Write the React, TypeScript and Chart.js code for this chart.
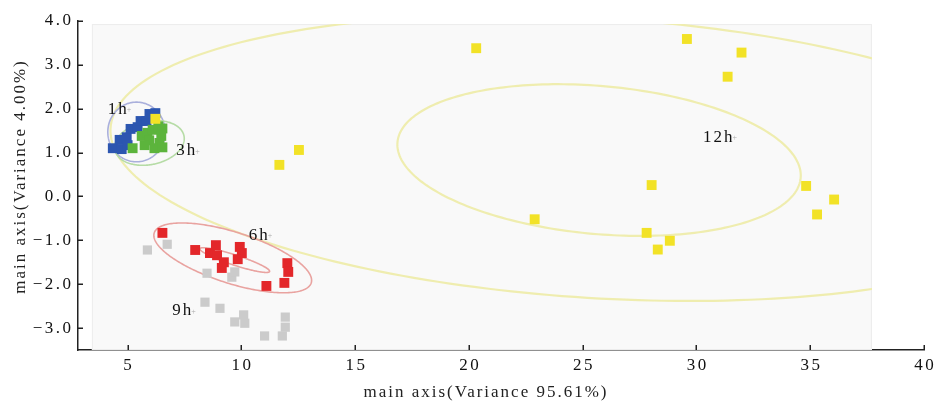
import React, { useEffect, useRef } from 'react';
import { Chart, registerables } from 'chart.js';

Chart.register(...registerables);

// ---- Axes ----
const X_TICKS = [5, 10, 15, 20, 25, 30, 35, 40];
const Y_TICKS = [4, 3, 2, 1, 0, -1, -2, -3];
const X_RANGE = [2.82, 40];
const Y_RANGE = [-3.5, 4];
const X_TITLE = 'main axis(Variance 95.61%)';
const Y_TITLE = 'main axis(Variance 4.00%)';

// ---- Series (PCA scores) ----
const h1X = [4.35, 4.74, 4.65, 4.96, 5.13, 5.44, 5.57, 5.83, 5.96, 6.22, 5.0];
const h1Y = [1.10, 1.08, 1.29, 1.35, 1.54, 1.58, 1.72, 1.72, 1.88, 1.90, 1.17];

const h3X = [5.22, 5.62, 5.87, 6.10, 6.35, 6.53, 6.48, 6.40, 6.18, 5.95, 6.53, 5.75];
const h3Y = [1.10, 1.38, 1.45, 1.52, 1.60, 1.55, 1.38, 1.22, 1.10, 1.28, 1.12, 1.17];

const h6X = [6.53, 7.97, 8.62, 8.88, 8.93, 9.23, 9.14, 9.93, 10.02, 9.84, 11.1, 12.02, 12.06, 11.89];
const h6Y = [-0.83, -1.22, -1.29, -1.11, -1.34, -1.50, -1.63, -1.15, -1.29, -1.43, -2.04, -1.52, -1.72, -1.97];

const h9X = [5.87, 6.74, 8.49, 9.58, 9.71, 8.40, 9.06, 9.71, 10.10, 10.15, 11.02, 11.93, 11.93, 11.80];
const h9Y = [-1.22, -1.09, -1.75, -1.84, -1.72, -2.41, -2.55, -2.86, -2.70, -2.89, -3.18, -2.75, -2.98, -3.18];

const h12X = [20.32, 29.58, 31.98, 31.37, 11.67, 12.53, 6.22, 28.03, 34.82, 36.05, 35.30, 27.81, 28.83, 28.30, 22.89];
const h12Y = [3.38, 3.59, 3.28, 2.73, 0.72, 1.06, 1.77, 0.26, 0.24, -0.07, -0.41, -0.83, -1.01, -1.21, -0.52];

// ---- Confidence ellipses: centre and two conjugate half-axes (data units) ----
const ELL_CX = [25.58, 25.72, 9.62, 9.71, 5.39, 5.96];
const ELL_CY = [0.876, 0.83, -1.40, -1.45, 1.47, 1.22];
const ELL_UX = [21.33, 8.86, 3.45, 1.53, 1.26, 1.53];
const ELL_UY = [-0.682, -0.406, -0.57, -0.26, 0, 0.1];
const ELL_VX = [-0.373, -0.281, -0.34, -0.07, 0, 0];
const ELL_VY = [-3.186, -1.681, -0.556, -0.11, 0.68, 0.5];
const ELL_COLORS = ['#efedaf', '#efedaf', '#e9a3a0', '#e9a3a0', '#aab0dc', '#b6dca6'];

// ---- Group labels ----
const LABELS = ['1h', '3h', '6h', '9h', '12h'];
const LABEL_X = [4.13, 7.14, 10.32, 6.96, 30.29];
const LABEL_Y = [1.99, 1.04, -0.88, -2.61, 1.35];

// ---- Inner picture panel (data units) ----
const PANEL_X = [3.43, 37.71];
const PANEL_Y = [-3.5, 3.93];

const SERIF = '"Liberation Serif", "Times New Roman", serif';
const toPoints = (xs: number[], ys: number[]) => xs.map((x, i) => ({ x, y: ys[i] }));

const App = () => {
  const ref = useRef<HTMLCanvasElement | null>(null);

  useEffect(() => {
    document.body.style.margin = '0';
    const canvas = ref.current;
    if (!canvas) return;

    const decor = {
      id: 'decor',
      beforeDatasetsDraw(chart: any) {
        const { ctx } = chart;
        const xs = chart.scales.x;
        const ys = chart.scales.y;
        const x0 = xs.getPixelForValue(PANEL_X[0]);
        const x1 = xs.getPixelForValue(PANEL_X[1]);
        const y0 = ys.getPixelForValue(PANEL_Y[1]);
        const y1 = ys.getPixelForValue(PANEL_Y[0]);
        ctx.save();
        ctx.fillStyle = '#f9f9f9';
        ctx.fillRect(x0, y0, x1 - x0, y1 - y0);
        ctx.strokeStyle = '#ececec';
        ctx.lineWidth = 1;
        ctx.strokeRect(x0 + 0.5, y0 + 0.5, x1 - x0 - 1, y1 - y0 - 1);
        ctx.beginPath();
        ctx.rect(x0, y0, x1 - x0, y1 - y0);
        ctx.clip();
        for (let e = 0; e < ELL_CX.length; e++) {
          ctx.beginPath();
          const n = 240;
          for (let k = 0; k <= n; k++) {
            const t = (k / n) * Math.PI * 2;
            const dx = ELL_CX[e] + ELL_UX[e] * Math.cos(t) + ELL_VX[e] * Math.sin(t);
            const dy = ELL_CY[e] + ELL_UY[e] * Math.cos(t) + ELL_VY[e] * Math.sin(t);
            const px = xs.getPixelForValue(dx);
            const py = ys.getPixelForValue(dy);
            if (k === 0) ctx.moveTo(px, py);
            else ctx.lineTo(px, py);
          }
          ctx.closePath();
          ctx.strokeStyle = ELL_COLORS[e];
          ctx.lineWidth = e < 2 ? 2.2 : 1.6;
          ctx.stroke();
        }
        ctx.restore();
      },
      afterDatasetsDraw(chart: any) {
        const { ctx } = chart;
        const xs = chart.scales.x;
        const ys = chart.scales.y;
        ctx.save();
        ctx.textAlign = 'left';
        ctx.textBaseline = 'middle';
        LABELS.forEach((t, i) => {
          const px = xs.getPixelForValue(LABEL_X[i]);
          const py = ys.getPixelForValue(LABEL_Y[i]);
          ctx.font = '17px ' + SERIF;
          (ctx as any).letterSpacing = '2px';
          ctx.fillStyle = '#111';
          ctx.fillText(t, px, py);
          const w = ctx.measureText(t).width;
          (ctx as any).letterSpacing = '0px';
          ctx.fillStyle = '#aaa';
          ctx.font = '8px ' + SERIF;
          ctx.fillText('+', px + w - 2, py + 1);
        });
        ctx.restore();
      },
      afterDraw(chart: any) {
        const { ctx, chartArea } = chart;
        const xs = chart.scales.x;
        const ys = chart.scales.y;
        ctx.save();
        ctx.strokeStyle = '#222';
        ctx.lineWidth = 1.5;
        ctx.beginPath();
        X_TICKS.forEach((v) => {
          const px = Math.round(xs.getPixelForValue(v)) + 0.25;
          ctx.moveTo(px, chartArea.bottom);
          ctx.lineTo(px, chartArea.bottom - 5);
        });
        Y_TICKS.forEach((v) => {
          const py = Math.round(ys.getPixelForValue(v)) + 0.25;
          ctx.moveTo(chartArea.left, py);
          ctx.lineTo(chartArea.left + 5, py);
        });
        ctx.stroke();

        ctx.fillStyle = '#111';
        ctx.font = '17px ' + SERIF;
        (ctx as any).letterSpacing = '2.5px';
        ctx.textBaseline = 'middle';
        ctx.textAlign = 'right';
        Y_TICKS.forEach((v) => {
          const t = v.toFixed(1).replace('-', '\u2212');
          ctx.fillText(t, chartArea.left - 7 + 2.5, ys.getPixelForValue(v));
        });
        ctx.textAlign = 'center';
        X_TICKS.forEach((v) => {
          ctx.fillText(String(v), xs.getPixelForValue(v) + 1.25, chartArea.bottom + 16);
        });

        (ctx as any).letterSpacing = '2px';
        ctx.font = '17px ' + SERIF;
        ctx.fillStyle = '#222';
        ctx.textAlign = 'center';
        ctx.fillText(X_TITLE, (chartArea.left + chartArea.right) / 2 - 15, chartArea.bottom + 43);
        ctx.translate(21, (chartArea.top + chartArea.bottom) / 2 - 9);
        ctx.rotate(-Math.PI / 2);
        ctx.fillText(Y_TITLE, 0, 0);
        ctx.restore();
      },
    };

    const sq = (data: any[], color: string, order: number, r = 7) => ({
      data,
      backgroundColor: color,
      borderWidth: 0,
      pointStyle: 'rect',
      pointRadius: r,
      pointHoverRadius: r,
      order,
    });

    const chart = new Chart(canvas, {
      type: 'scatter',
      data: {
        datasets: [
          sq(toPoints(h12X, h12Y), '#f2e227', 1),
          sq(toPoints(h3X, h3Y), '#5cb43c', 2),
          sq(toPoints(h1X, h1Y), '#2c56b0', 3),
          sq(toPoints(h6X, h6Y), '#e3272a', 4),
          sq(toPoints(h9X, h9Y), '#cbcbcb', 5, 6.5),
        ] as any,
      },
      options: {
        animation: false,
        responsive: false,
        layout: { padding: { top: 21, right: 17, bottom: 0, left: 0 } },
        plugins: { legend: { display: false }, tooltip: { enabled: false } },
        scales: {
          x: {
            type: 'linear',
            min: X_RANGE[0],
            max: X_RANGE[1],
            grid: { display: true, drawOnChartArea: false, drawTicks: false },
            border: { display: true, color: '#222', width: 1.5 },
            ticks: { display: false },
            afterBuildTicks: (s: any) => {
              s.ticks = X_TICKS.map((v) => ({ value: v }));
            },
            afterFit: (s: any) => {
              s.height = 53;
            },
          },
          y: {
            type: 'linear',
            min: Y_RANGE[0],
            max: Y_RANGE[1],
            grid: { display: true, drawOnChartArea: false, drawTicks: false },
            border: { display: true, color: '#222', width: 1.5 },
            ticks: { display: false },
            afterBuildTicks: (s: any) => {
              s.ticks = Y_TICKS.map((v) => ({ value: v }));
            },
            afterFit: (s: any) => {
              s.width = 78;
            },
          },
        },
      } as any,
      plugins: [decor],
    });

    return () => chart.destroy();
  }, []);

  return <canvas ref={ref} width={941} height={403} style={{ display: 'block' }} />;
};

export default App;
